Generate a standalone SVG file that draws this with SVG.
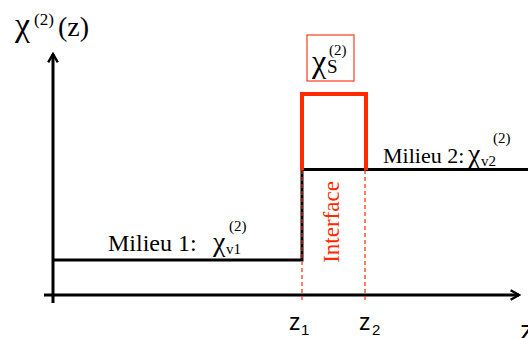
<svg xmlns="http://www.w3.org/2000/svg" width="528" height="338" viewBox="0 0 528 338">
<style>
.s{font-family:'Liberation Sans',Arial,sans-serif;fill:#000}
.ax{stroke:#000;stroke-width:3;fill:none}
.red{stroke:#FF2A00;fill:none}
</style>
<defs>
<marker id="arr" viewBox="0 0 10 10" refX="8" refY="5" markerWidth="4" markerHeight="4" orient="auto" markerUnits="strokeWidth">
<path d="M1,1 L8,5 L1,9" fill="none" stroke="#000" stroke-width="2"/>
</marker>
</defs>
<g font-family="Liberation Serif, DejaVu Serif, serif" fill="#000">
<g id="title">
<text x="15" y="36" font-size="34">χ</text>
<text x="34" y="25" font-size="17">(2)</text>
<text x="58" y="36" font-size="28">(z)</text>
</g>
<g id="chi-s">
<rect x="307" y="35" width="47" height="46" fill="none" stroke="#FF3B1F" stroke-width="1.2"/>
<text x="312" y="72" font-size="32">χ</text>
<text x="327" y="73" font-size="19">S</text>
<text x="329" y="55" font-size="15">(2)</text>
</g>
<g id="milieu2">
<text x="383" y="163" font-size="22">Milieu 2:</text>
<text x="468" y="163" font-size="28">χ</text>
<text x="481" y="166" font-size="15">v2</text>
<text x="493" y="143" font-size="15">(2)</text>
</g>
<g id="milieu1">
<text x="108" y="251" font-size="24">Milieu 1:</text>
<text x="213" y="251" font-size="28">χ</text>
<text x="226" y="254" font-size="15">v1</text>
<text x="229" y="231" font-size="15">(2)</text>
</g>
<g id="interface">
<text x="0" y="0" font-size="23" fill="#FF2A00" text-anchor="middle" transform="translate(339,222) rotate(-90)">Interface</text>
</g>
</g>
<g id="connectors">
<line class="ax" x1="53" y1="303" x2="53" y2="54" marker-end="url(#arr)"/>
<line class="ax" x1="44" y1="295" x2="519" y2="295" marker-end="url(#arr)"/>
<polyline class="ax" points="53,260 302,260 302,169.5 528,169.5"/>
<polyline class="red" stroke-width="4" points="302,170 302,94 366,94 366,170"/>
<line class="red" stroke-width="1.2" stroke-dasharray="4,3" x1="302" y1="170" x2="302" y2="301"/>
<line class="red" stroke-width="1.2" stroke-dasharray="4,3" x1="365" y1="170" x2="365" y2="301"/>
</g>
<g id="labels">
<text class="s" x="289" y="330" font-size="23">z</text>
<text class="s" x="301" y="335" font-size="15">1</text>
<text class="s" x="359" y="330" font-size="23">z</text>
<text class="s" x="372" y="335" font-size="15">2</text>
<text class="s" x="520" y="340" font-size="28">z</text>
</g>
</svg>
